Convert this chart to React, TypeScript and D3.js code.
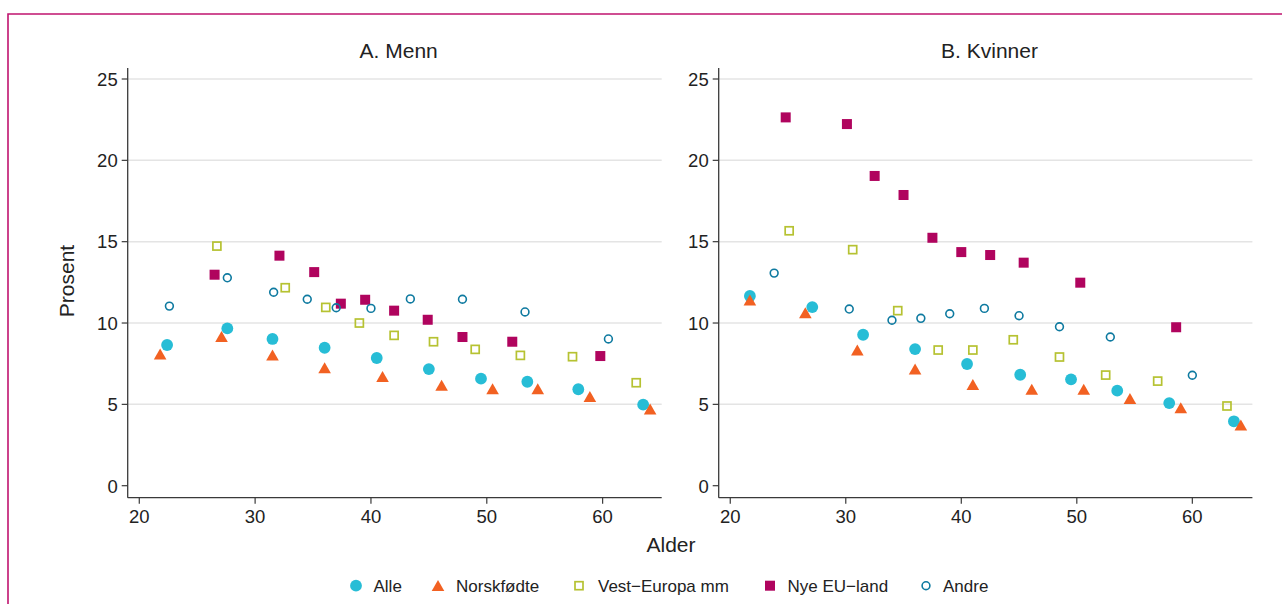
import React from 'react';
import * as d3 from 'd3';

// ---------- data ----------
const panelTitles = ['A. Menn', 'B. Kvinner'];
const seriesNames = ['Alle', 'Norskfødte', 'Vest\u2212Europa mm', 'Nye EU\u2212land', 'Andre'];
const seriesColors = ['#27BDD6', '#F26122', '#B6C232', '#B0045E', '#0E7AA0'];
const seriesKinds = ['circle', 'triangle', 'squareHollow', 'square', 'circleHollow'];
const yTicks = [0, 5, 10, 15, 20, 25];
const gridTicks = [5, 10, 15, 20, 25];
const xTicks = [20, 30, 40, 50, 60];

// A. Menn
const menAlleAge = [22.4, 27.6, 31.5, 36.0, 40.5, 45.0, 49.5, 53.5, 57.9, 63.5];
const menAlleVal = [8.65, 9.67, 9.02, 8.48, 7.85, 7.17, 6.58, 6.39, 5.93, 4.98];
const menNorskAge = [21.8, 27.1, 31.5, 36.0, 41.0, 46.1, 50.5, 54.4, 58.9, 64.1];
const menNorskVal = [8.09, 9.16, 8.03, 7.25, 6.70, 6.17, 5.96, 5.96, 5.47, 4.71];
const menVestAge = [26.7, 32.6, 36.1, 39.0, 42.0, 45.4, 49.0, 52.9, 57.4, 62.9];
const menVestVal = [14.73, 12.17, 10.96, 10.0, 9.24, 8.85, 8.38, 8.01, 7.93, 6.33];
const menEuAge = [26.5, 32.1, 35.1, 37.4, 39.5, 42.0, 44.9, 47.9, 52.2, 59.8];
const menEuVal = [12.97, 14.14, 13.13, 11.19, 11.43, 10.76, 10.2, 9.14, 8.85, 7.97];
const menAndreAge = [22.6, 27.6, 31.6, 34.5, 37.0, 40.0, 43.4, 47.9, 53.3, 60.5];
const menAndreVal = [11.04, 12.78, 11.89, 11.46, 10.94, 10.9, 11.48, 11.46, 10.68, 9.02];

// B. Kvinner
const womAlleAge = [21.7, 27.1, 31.5, 36.0, 40.5, 45.1, 49.5, 53.5, 58.0, 63.6];
const womAlleVal = [11.66, 10.98, 9.28, 8.4, 7.48, 6.82, 6.54, 5.84, 5.08, 3.96];
const womNorskAge = [21.7, 26.5, 31.0, 36.0, 41.0, 46.1, 50.6, 54.6, 59.0, 64.2];
const womNorskVal = [11.41, 10.63, 8.34, 7.17, 6.21, 5.93, 5.93, 5.35, 4.79, 3.73];
const womVestAge = [25.1, 30.6, 34.5, 38.0, 41.0, 44.5, 48.5, 52.5, 57.0, 63.0];
const womVestVal = [15.67, 14.51, 10.76, 8.34, 8.34, 8.97, 7.91, 6.8, 6.43, 4.9];
const womEuAge = [24.8, 30.1, 32.5, 35.0, 37.5, 40.0, 42.5, 45.4, 50.3, 58.6];
const womEuVal = [22.64, 22.23, 19.04, 17.87, 15.24, 14.36, 14.18, 13.71, 12.48, 9.74];
const womAndreAge = [23.8, 30.3, 34.0, 36.5, 39.0, 42.0, 45.0, 48.5, 52.9, 60.0];
const womAndreVal = [13.07, 10.86, 10.17, 10.29, 10.57, 10.9, 10.45, 9.77, 9.14, 6.79];

const panelAges = [
  [menAlleAge, menNorskAge, menVestAge, menEuAge, menAndreAge],
  [womAlleAge, womNorskAge, womVestAge, womEuAge, womAndreAge],
];
const panelVals = [
  [menAlleVal, menNorskVal, menVestVal, menEuVal, menAndreVal],
  [womAlleVal, womNorskVal, womVestVal, womEuVal, womAndreVal],
];

// ---------- layout ----------
const W = 1282;
const H = 604;
const FONT = '"Liberation Sans", Arial, Helvetica, sans-serif';
const TEXT = '#222';
const AXIS = '#3a3a3a';
const panelX = [
  { left: 127.7, right: 661.7, domain: [19, 65.1] },
  { left: 718.7, right: 1252.4, domain: [19, 65.2] },
];
const yTop = 68;
const yBottom = 497.7;
const yScale = d3.scaleLinear().domain([0, 25]).range([485.7, 79]);

function Marker({ kind, x, y, color }: { kind: string; x: number; y: number; color: string }) {
  if (kind === 'circle') return <circle cx={x} cy={y} r={5.9} fill={color} />;
  if (kind === 'circleHollow')
    return <circle cx={x} cy={y} r={3.9} fill="none" stroke={color} strokeWidth={1.6} />;
  if (kind === 'square') return <rect x={x - 5} y={y - 5} width={10} height={10} fill={color} />;
  if (kind === 'squareHollow')
    return <rect x={x - 4} y={y - 4} width={8} height={8} fill="none" stroke={color} strokeWidth={1.7} />;
  // triangle
  const path = d3.path();
  path.moveTo(x, y - 5.6);
  path.lineTo(x + 6.3, y + 5.4);
  path.lineTo(x - 6.3, y + 5.4);
  path.closePath();
  return <path d={path.toString()} fill={color} />;
}

function Panel({ idx }: { idx: number }) {
  const p = panelX[idx];
  const x = d3.scaleLinear().domain(p.domain).range([p.left, p.right]);
  const ages = panelAges[idx];
  const vals = panelVals[idx];
  return (
    <g>
      <text
        x={(p.left + p.right) / 2 + 4}
        y={58}
        textAnchor="middle"
        fontSize={21}
        fontFamily={FONT}
        fill={TEXT}
      >
        {panelTitles[idx]}
      </text>
      {gridTicks.map((t) => (
        <line
          key={'g' + t}
          x1={p.left}
          x2={p.right}
          y1={yScale(t)}
          y2={yScale(t)}
          stroke="#E4E4E4"
          strokeWidth={1.5}
        />
      ))}
      <line x1={p.left} x2={p.left} y1={yTop} y2={yBottom} stroke={AXIS} strokeWidth={1.3} />
      <line x1={p.left} x2={p.right} y1={yBottom} y2={yBottom} stroke={AXIS} strokeWidth={1.3} />
      {yTicks.map((t) => (
        <g key={'y' + t}>
          <line x1={p.left - 6} x2={p.left} y1={yScale(t)} y2={yScale(t)} stroke={AXIS} strokeWidth={1.2} />
          <text
            x={p.left - 10}
            y={yScale(t) + 6.8}
            textAnchor="end"
            fontSize={18.5}
            fontFamily={FONT}
            fill={TEXT}
          >
            {t}
          </text>
        </g>
      ))}
      {xTicks.map((t) => (
        <g key={'x' + t}>
          <line x1={x(t)} x2={x(t)} y1={yBottom} y2={yBottom + 6} stroke={AXIS} strokeWidth={1.2} />
          <text x={x(t)} y={522.5} textAnchor="middle" fontSize={18.5} fontFamily={FONT} fill={TEXT}>
            {t}
          </text>
        </g>
      ))}
      {seriesNames.map((name, si) => (
        <g key={name}>
          {ages[si].map((a, i) => (
            <Marker key={i} kind={seriesKinds[si]} x={x(a)} y={yScale(vals[si][i])} color={seriesColors[si]} />
          ))}
        </g>
      ))}
    </g>
  );
}

const legendMarkerX = [356, 438, 579, 770, 926];
const legendTextX = [373.5, 456, 598, 787.5, 943];

export default function App() {
  return (
    <svg
      width={W}
      height={H}
      style={{ position: 'absolute', left: 0, top: 0, background: '#fff' }}
    >
      <rect x={0} y={0} width={W} height={H} fill="#fff" />
      <path d={`M8,${H + 2} L8,14 L${W + 2},14`} fill="none" stroke="#C0136F" strokeWidth={1.6} />
      <Panel idx={0} />
      <Panel idx={1} />
      <text
        transform="translate(74.3,281) rotate(-90)"
        textAnchor="middle"
        fontSize={21}
        fontFamily={FONT}
        fill={TEXT}
      >
        Prosent
      </text>
      <text x={671} y={552.3} textAnchor="middle" fontSize={21} fontFamily={FONT} fill={TEXT}>
        Alder
      </text>
      {seriesNames.map((name, si) => (
        <g key={'leg' + si}>
          <Marker kind={seriesKinds[si]} x={legendMarkerX[si]} y={585.7} color={seriesColors[si]} />
          <text x={legendTextX[si]} y={591.7} fontSize={17} fontFamily={FONT} fill={TEXT}>
            {name}
          </text>
        </g>
      ))}
    </svg>
  );
}
